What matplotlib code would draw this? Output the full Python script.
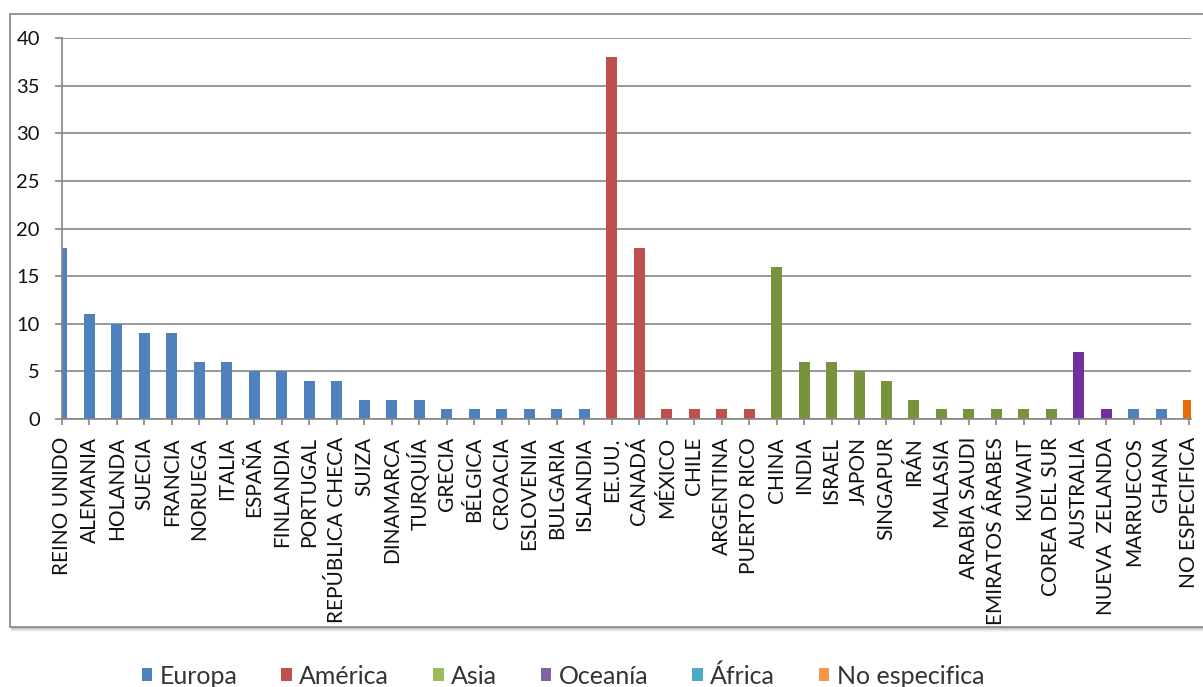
import matplotlib
matplotlib.use("Agg")
import matplotlib.pyplot as plt
from matplotlib.patches import Patch, Rectangle
from matplotlib.lines import Line2D

plt.rcParams["font.family"] = ["Lato", "DejaVu Sans"]

# Countries, counts and the region each belongs to
countries = [
    "REINO UNIDO", "ALEMANIA", "HOLANDA", "SUECIA", "FRANCIA", "NORUEGA",
    "ITALIA", "ESPAÑA", "FINLANDIA", "PORTUGAL", "REPÚBLICA CHECA", "SUIZA",
    "DINAMARCA", "TURQUÍA", "GRECIA", "BÉLGICA", "CROACIA", "ESLOVENIA",
    "BULGARIA", "ISLANDIA",
    "EE.UU.", "CANADÁ", "MÉXICO", "CHILE", "ARGENTINA", "PUERTO RICO",
    "CHINA", "INDIA", "ISRAEL", "JAPON", "SINGAPUR", "IRÁN", "MALASIA",
    "ARABIA SAUDI", "EMIRATOS ÁRABES", "KUWAIT", "COREA DEL SUR",
    "AUSTRALIA", "NUEVA  ZELANDA",
    "MARRUECOS", "GHANA",
    "NO ESPECIFICA",
]
counts = [
    18, 11, 10, 9, 9, 6, 6, 5, 5, 4, 4, 2, 2, 2, 1, 1, 1, 1, 1, 1,
    38, 18, 1, 1, 1, 1,
    16, 6, 6, 5, 4, 2, 1, 1, 1, 1, 1,
    7, 1,
    1, 1,
    2,
]
regions = (
    ["Europa"] * 20 + ["América"] * 6 + ["Asia"] * 11 + ["Oceanía"] * 2
    + ["Europa"] * 2 + ["No especifica"]
)
legend_regions = ["Europa", "América", "Asia", "Oceanía", "África", "No especifica"]

# Bar fill per region and legend swatch colours
bar_colors = {
    "Europa": "#4F81BD", "América": "#C0504D", "Asia": "#77933C",
    "Oceanía": "#7030A0", "África": "#4BACC6", "No especifica": "#E36C09",
}
legend_colors = {
    "Europa": "#4F81BD", "América": "#C0504D", "Asia": "#9BBB59",
    "Oceanía": "#8064A2", "África": "#4BACC6", "No especifica": "#F79646",
}
# some series sit slightly below the category axis
base_drop = {"América": 0.3, "Asia": 0.3, "Oceanía": 0.3}

W, H = 1203, 687
fig = plt.figure(figsize=(W / 100, H / 100), dpi=100)
fig.patch.set_facecolor("white")

# chart frame with a soft shadow underneath
for i, a in enumerate([0.35, 0.22, 0.12, 0.06]):
    fig.add_artist(Line2D([12 / W, 1.0], [1 - (628 + i) / H] * 2,
                          transform=fig.transFigure, color="#707070",
                          lw=1.2, alpha=a, zorder=-3))
fig.add_artist(Rectangle((10 / W, 1 - 627 / H), 1.1, (627 - 14) / H,
                         transform=fig.transFigure, facecolor="white",
                         edgecolor="#8C8C8C", lw=1.3, zorder=-2))

ax = fig.add_axes([62 / W, 1 - 419 / H, (1191 - 62) / W, (419 - 38) / H])
ax.set_facecolor("none")
ax.set_zorder(1)

x = list(range(len(countries)))
bw = 0.4
for xi, v, r in zip(x, counts, regions):
    d = base_drop.get(r, 0.0)
    ax.bar(xi, v + d, bottom=-d, width=bw, color=bar_colors[r],
           linewidth=0, zorder=2)

ax.set_xlim(0, 41.08)
ax.set_ylim(0, 40)
ax.set_yticks(range(0, 41, 5))
ax.yaxis.grid(True, color="#868686", lw=1.2)
ax.set_axisbelow(True)

ax.set_xticks(x)
ax.set_xticklabels(countries, rotation=90, fontsize=15, color="#111111",
                   va="top", ha="center")
ax.tick_params(axis="x", length=4, width=1.2, color="#868686", pad=9)
ax.tick_params(axis="y", length=5, width=1.2, color="#868686", pad=11,
               labelsize=14.5, labelcolor="#111111")

for s in ["top", "right"]:
    ax.spines[s].set_visible(False)
for s in ["left", "bottom"]:
    ax.spines[s].set_color("#868686")
    ax.spines[s].set_linewidth(1.2)
ax.spines["bottom"].set_zorder(3)

handles = [Patch(facecolor=legend_colors[r], edgecolor="none", label=r)
           for r in legend_regions]
fig.legend(handles=handles, loc="center", ncol=6,
           bbox_to_anchor=(563 / W, 1 - 676 / H), frameon=False,
           fontsize=18, handlelength=0.42, handleheight=0.42,
           handletextpad=0.3, columnspacing=1.75, labelcolor="#333333")

fig.savefig("out.png", dpi=100, facecolor="white")
